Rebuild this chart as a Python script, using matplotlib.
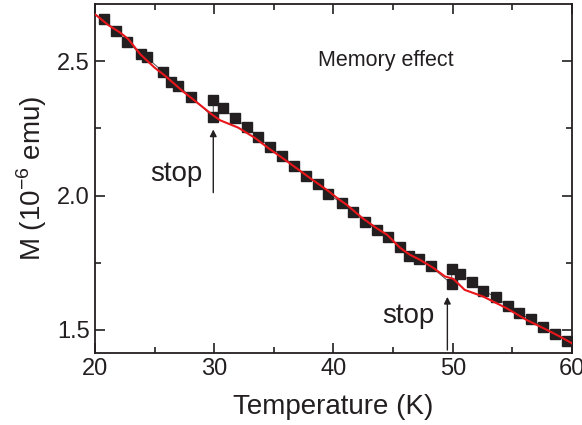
import numpy as np
import matplotlib
matplotlib.use('Agg')
import matplotlib.pyplot as plt
from matplotlib.ticker import MultipleLocator

plt.rcParams['font.family'] = ['Liberation Sans', 'DejaVu Sans']
plt.rcParams['mathtext.fontset'] = 'custom'
plt.rcParams['mathtext.rm'] = 'Liberation Sans'

# memory run (squares)
t_mem = [20.75, 21.74, 22.71, 23.83, 24.34, 25.73, 26.37, 26.99, 28.05,
         29.92, 29.92, 30.76, 31.74, 32.72, 33.69, 34.68, 35.71, 36.69,
         37.67, 38.73, 39.56, 40.69, 41.66, 42.64, 43.62, 44.60, 45.58,
         46.36, 47.17, 48.15, 49.91, 49.91, 50.61, 51.64, 52.56, 53.63,
         54.61, 55.56, 56.54, 57.59, 58.57, 59.56]
m_mem = [2.657, 2.613, 2.573, 2.526, 2.514, 2.460, 2.423, 2.408, 2.368,
         2.292, 2.356, 2.325, 2.287, 2.255, 2.219, 2.180, 2.149, 2.109,
         2.072, 2.044, 2.004, 1.973, 1.939, 1.902, 1.873, 1.844, 1.807,
         1.774, 1.765, 1.736, 1.671, 1.728, 1.709, 1.678, 1.646, 1.621,
         1.590, 1.562, 1.540, 1.510, 1.484, 1.459]

# reference run (red line)
t_ref = [20.0, 21.1, 22.1, 22.8, 23.8, 25.0, 25.9, 26.7, 27.4, 28.4, 29.8,
         30.5, 32.0, 33.4, 34.5, 35.9, 37.05, 38.2, 39.6, 40.3, 41.1, 42.4,
         43.6, 44.5, 45.6, 46.4, 47.25, 48.4, 49.35, 50.05, 51.0, 52.56,
         54.5, 56.2, 57.9, 59.0, 60.0]
m_ref = [2.675, 2.635, 2.607, 2.582, 2.526, 2.476, 2.445, 2.414, 2.387,
         2.352, 2.302, 2.280, 2.253, 2.215, 2.178, 2.134, 2.097, 2.060,
         2.016, 1.991, 1.966, 1.917, 1.879, 1.854, 1.805, 1.780, 1.761,
         1.730, 1.699, 1.690, 1.649, 1.624, 1.581, 1.537, 1.500, 1.475,
         1.450]

stop_t = [29.92, 49.55]
arrow_from = [2.011, 1.425]
arrow_to = [2.246, 1.623]
stop_label_pos = [(26.8, 2.082), (46.25, 1.552)]

fig = plt.figure(figsize=(5.82, 4.25), dpi=100)
ax = fig.add_axes([0.1632, 0.1694, 0.8196, 0.8212])

ax.plot(t_mem, m_mem, color='#555555', lw=0.7, zorder=2)
ax.plot(t_mem, m_mem, ls='none', marker='s', ms=7, mfc='#231f20', mec='#231f20', zorder=3)
ax.plot(t_ref, m_ref, color='#e8161b', lw=1.5, zorder=4)

for t, y0, y1, (lx, ly) in zip(stop_t, arrow_from, arrow_to, stop_label_pos):
    ax.annotate('', xy=(t, y1), xytext=(t, y0),
                arrowprops=dict(arrowstyle='-|>', color='#231f20', lw=1.0,
                                mutation_scale=10, shrinkA=0, shrinkB=0))
    ax.text(lx, ly, 'stop', fontsize=20, ha='center', va='center', color='#231f20')

ax.text(44.4, 2.504, 'Memory effect', fontsize=15.5, ha='center', va='center', color='#231f20')

ax.set_xlim(20, 60)
ax.set_ylim(1.414, 2.713)
ax.xaxis.set_major_locator(MultipleLocator(10))
ax.xaxis.set_minor_locator(MultipleLocator(5))
ax.yaxis.set_major_locator(MultipleLocator(0.5))
ax.yaxis.set_minor_locator(MultipleLocator(0.25))
ax.tick_params(which='both', direction='in', top=True, right=True, width=1.2, colors='#231f20', labelsize=17)
ax.tick_params(which='major', length=7)
ax.tick_params(which='minor', length=4)
for s in ax.spines.values():
    s.set_linewidth(1.3)
    s.set_color('#231f20')

ax.set_xlabel('Temperature (K)', fontsize=20, color='#231f20', labelpad=10)
ax.set_ylabel('M (10$^{-6}$ emu)', fontsize=20, color='#231f20', labelpad=6)

fig.savefig('out.png', dpi=100)
